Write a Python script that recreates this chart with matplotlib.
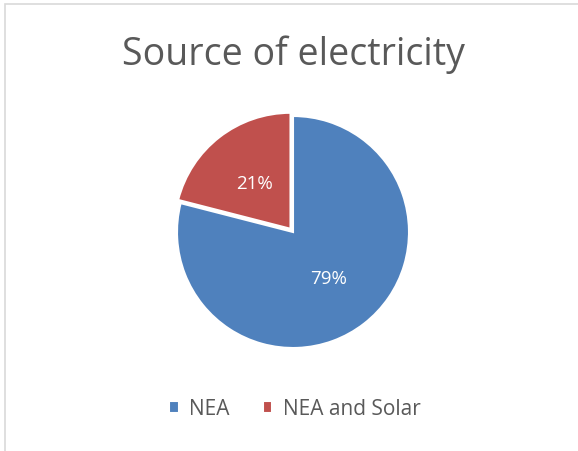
import matplotlib.pyplot as plt
from matplotlib.patches import Rectangle

# data
labels = ["NEA", "NEA and Solar"]
shares = [79, 21]
colors = ["#4F81BD", "#C0504D"]
explode = [0.0, 0.035]

W, H = 578, 452
fig = plt.figure(figsize=(W / 100, H / 100), dpi=100)
fig.patch.set_facecolor("white")

# chart border (Excel chart area)
fig.add_artist(Rectangle((5 / W, -0.01), 1.2, 1 - 5 / H + 0.01, transform=fig.transFigure,
                         fill=False, edgecolor="#D9D9D9", lw=1.2))

cx, cy, r = 293, 233, 116
ax = fig.add_axes([(cx - r) / W, 1 - (cy + r) / H, 2 * r / W, 2 * r / H])
wedges, texts, autotexts = ax.pie(
    shares, colors=colors, explode=explode, startangle=90, counterclock=False,
    autopct="%d%%", pctdistance=0.5, radius=1.0,
    wedgeprops=dict(edgecolor="white", linewidth=1.5),
    textprops=dict(color="white", fontsize=13.5, family="Open Sans"),
)
ax.set_xlim(-1, 1)
ax.set_ylim(-1, 1)
ax.set_aspect("equal")
ax.axis("off")

fig.text(cx / W, 1 - 55 / H, "Source of electricity", ha="center", va="center",
         fontsize=27, color="#595959", family="Open Sans")

fig.legend(wedges, labels, loc="center", bbox_to_anchor=(295 / W, 1 - 410 / H),
           ncol=2, frameon=False, handlelength=0.45, handleheight=0.45,
           handletextpad=0.5, columnspacing=1.6,
           prop=dict(family="Open Sans", size=15), labelcolor="#595959")

fig.savefig("out.png", dpi=100)
